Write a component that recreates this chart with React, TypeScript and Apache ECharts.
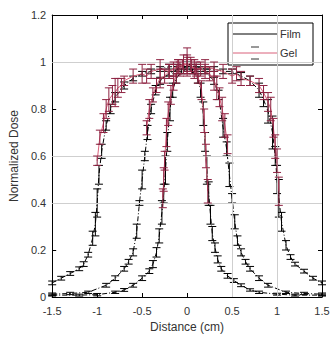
import React, { useEffect, useRef } from "react";
import * as echarts from "echarts";

const xTickLabels = ["-1.5", "-1", "-0.5", "0", "0.5", "1", "1.5"];
const yTickLabels = ["0", "0.2", "0.4", "0.6", "0.8", "1", "1.2"];

// Film, wide field
const filmWideX = [-1.5,-1.4,-1.3,-1.2,-1.15,-1.1,-1.05,-1.02,-1.0,-0.98,-0.95,-0.9,-0.85,-0.8,-0.7,-0.6,-0.5,-0.4,-0.3,-0.2,-0.1,0,0.1,0.2,0.3,0.4,0.5,0.6,0.7,0.8,0.85,0.9,0.95,0.98,1.0,1.02,1.05,1.1,1.15,1.2,1.3,1.4,1.5];
const filmWideY = [0.06,0.08,0.10,0.12,0.14,0.18,0.25,0.31,0.40,0.52,0.62,0.73,0.80,0.85,0.90,0.93,0.95,0.96,0.97,0.98,0.98,0.99,0.98,0.97,0.97,0.96,0.96,0.94,0.92,0.88,0.84,0.79,0.70,0.60,0.50,0.42,0.32,0.22,0.17,0.14,0.11,0.08,0.06];
const filmWideErr = [0.008,0.008,0.008,0.008,0.01,0.01,0.03,0.05,0.06,0.04,0.03,0.02,0.02,0.02,0.015,0.01,0.01,0.01,0.01,0.01,0.01,0.01,0.01,0.01,0.01,0.01,0.01,0.015,0.02,0.03,0.03,0.05,0.07,0.04,0.06,0.08,0.04,0.02,0.01,0.008,0.008,0.008,0.008];

// Film, middle field
const filmMidX = [-1.5,-1.3,-1.1,-0.9,-0.8,-0.7,-0.65,-0.6,-0.56,-0.53,-0.5,-0.47,-0.44,-0.4,-0.35,-0.3,-0.2,-0.1,0,0.1,0.2,0.3,0.35,0.4,0.44,0.47,0.5,0.53,0.56,0.6,0.65,0.7,0.8,0.9,1.1,1.3,1.5];
const filmMidY = [0.012,0.015,0.02,0.05,0.08,0.12,0.15,0.19,0.28,0.40,0.50,0.60,0.70,0.80,0.88,0.92,0.95,0.97,0.98,0.97,0.96,0.92,0.86,0.72,0.63,0.52,0.42,0.32,0.24,0.19,0.15,0.12,0.08,0.05,0.02,0.015,0.012];
const filmMidErr = [0.005,0.005,0.005,0.008,0.01,0.01,0.01,0.015,0.03,0.01,0.04,0.02,0.03,0.02,0.02,0.015,0.01,0.01,0.01,0.01,0.01,0.015,0.02,0.04,0.03,0.05,0.02,0.03,0.02,0.015,0.01,0.01,0.01,0.008,0.005,0.005,0.005];

// Film, narrow field
const filmNarrowX = [-1.5,-1.2,-1.0,-0.8,-0.7,-0.6,-0.5,-0.42,-0.38,-0.34,-0.31,-0.28,-0.26,-0.24,-0.22,-0.19,-0.16,-0.12,-0.06,0,0.06,0.12,0.15,0.18,0.2,0.22,0.24,0.26,0.28,0.31,0.34,0.38,0.45,0.52,0.6,0.7,0.8,1.0,1.2,1.5];
const filmNarrowY = [0.008,0.008,0.01,0.02,0.03,0.05,0.08,0.11,0.14,0.19,0.26,0.36,0.44,0.54,0.66,0.80,0.88,0.93,0.96,0.97,0.96,0.93,0.88,0.78,0.66,0.54,0.44,0.35,0.27,0.21,0.16,0.12,0.09,0.07,0.05,0.03,0.02,0.012,0.008,0.008];
const filmNarrowErr = [0.004,0.004,0.005,0.005,0.006,0.008,0.01,0.01,0.015,0.02,0.03,0.05,0.04,0.06,0.04,0.05,0.03,0.02,0.01,0.01,0.01,0.02,0.03,0.05,0.04,0.06,0.05,0.04,0.03,0.02,0.015,0.01,0.01,0.008,0.006,0.005,0.005,0.004,0.004,0.004];

// Gel, wide field
const gelWideX = [-1.0,-0.97,-0.93,-0.9,-0.87,-0.83,-0.8,-0.77,-0.73,-0.7,-0.6,-0.5,-0.45,-0.4,-0.3,-0.2,-0.1,0,0.1,0.2,0.3,0.4,0.5,0.55,0.6,0.7,0.8,0.85,0.9,0.93,0.96,0.98,1.0,1.02];
const gelWideY = [0.58,0.68,0.74,0.80,0.84,0.86,0.87,0.89,0.90,0.92,0.94,0.95,0.94,0.96,0.97,0.96,0.98,0.99,0.97,0.98,0.97,0.96,0.94,0.95,0.93,0.92,0.90,0.87,0.83,0.80,0.72,0.64,0.58,0.45];
const gelWideErr = [0.02,0.03,0.04,0.04,0.05,0.04,0.06,0.04,0.03,0.02,0.03,0.04,0.03,0.03,0.04,0.03,0.03,0.04,0.03,0.03,0.03,0.03,0.03,0.03,0.03,0.02,0.03,0.03,0.04,0.05,0.04,0.05,0.05,0.06];

// Gel, middle field
const gelMidX = [-0.45,-0.42,-0.38,-0.34,-0.3,-0.25,-0.2,-0.15,-0.1,-0.05,0,0.05,0.1,0.15,0.2,0.25,0.3,0.33,0.36,0.39,0.42,0.45];
const gelMidY = [0.72,0.80,0.86,0.90,0.93,0.94,0.96,0.97,0.98,0.99,0.99,0.98,0.97,0.97,0.96,0.95,0.92,0.89,0.85,0.80,0.73,0.65];
const gelMidErr = [0.03,0.04,0.03,0.03,0.04,0.03,0.03,0.03,0.03,0.02,0.03,0.03,0.02,0.03,0.03,0.03,0.04,0.05,0.04,0.05,0.05,0.04];

// Gel, narrow field
const gelNarrowX = [-0.27,-0.26,-0.25,-0.23,-0.21,-0.18,-0.15,-0.12,-0.08,-0.04,0,0.04,0.08,0.12,0.16,0.19,0.21,0.23];
const gelNarrowY = [0.42,0.50,0.58,0.70,0.78,0.86,0.91,0.95,0.97,0.99,1.0,0.99,0.97,0.94,0.88,0.75,0.60,0.45];
const gelNarrowErr = [0.04,0.05,0.04,0.06,0.05,0.04,0.03,0.04,0.03,0.04,0.06,0.03,0.04,0.03,0.04,0.05,0.05,0.05];

const gridYLines = [1, 0.6, 0.4];
const gridXLines = [0.5, 1];

const FILM = "#000000";
const GEL_LINE = "#d9607a";
const GEL_BAR = "#8e2342";
const FONT = "Liberation Sans, Arial, sans-serif";

function zip(xs: number[], ys: number[], es?: number[]) {
  return xs.map((x, i) => (es ? [x, ys[i], es[i]] : [x, ys[i]]));
}

function errSeries(xs: number[], ys: number[], es: number[], color: string, z: number) {
  return {
    type: "custom",
    xAxisIndex: 0,
    yAxisIndex: 0,
    z,
    silent: true,
    data: zip(xs, ys, es),
    encode: { x: 0, y: 1 },
    renderItem: (params: any, api: any) => {
      const x = api.value(0);
      const y = api.value(1);
      const e = api.value(2);
      const top = api.coord([x, y + e]);
      const bot = api.coord([x, y - e]);
      const hw = 4;
      const style = { stroke: color, lineWidth: 1, fill: "none" };
      return {
        type: "group",
        children: [
          { type: "line", shape: { x1: top[0], y1: top[1], x2: bot[0], y2: bot[1] }, style },
          { type: "line", shape: { x1: top[0] - hw, y1: top[1], x2: top[0] + hw, y2: top[1] }, style },
          { type: "line", shape: { x1: bot[0] - hw, y1: bot[1], x2: bot[0] + hw, y2: bot[1] }, style },
        ],
      };
    },
  };
}

function lineSeries(xs: number[], ys: number[], color: string, dashed: boolean, z: number) {
  return {
    type: "line",
    xAxisIndex: 0,
    yAxisIndex: 0,
    z,
    silent: true,
    symbol: "none",
    data: zip(xs, ys),
    lineStyle: { color, width: 1, type: dashed ? [5, 2, 1, 2] : "solid" },
  };
}

export default function App() {
  const ref = useRef<HTMLDivElement>(null);
  useEffect(() => {
    document.body.style.margin = "0";
    const chart = echarts.init(ref.current!, null, { renderer: "svg" });
    const fmt = (v: number) => String(Number(v.toFixed(1)));
    const labelStyle = { color: "#333", fontSize: 11, fontFamily: FONT };
    chart.setOption({
      animation: false,
      backgroundColor: "#ffffff",
      grid: { left: 51, right: 11, top: 15, bottom: 48 },
      xAxis: [
        {
          type: "value",
          min: -1.5,
          max: 1.5,
          interval: 0.5,
          position: "bottom",
          name: "Distance (cm)",
          nameLocation: "middle",
          nameGap: 24,
          nameTextStyle: { color: "#333", fontSize: 12, fontFamily: FONT },
          axisLine: { show: true, onZero: false, lineStyle: { color: "#000", width: 1 } },
          axisTick: { show: true, inside: true, length: 4, lineStyle: { color: "#000" } },
          axisLabel: { ...labelStyle, margin: 8, formatter: (v: number) => xTickLabels[Math.round((v + 1.5) / 0.5)] ?? fmt(v) },
          splitLine: { show: false },
        },
        {
          type: "value",
          min: -1.5,
          max: 1.5,
          interval: 0.5,
          position: "top",
          axisLine: { show: true, onZero: false, lineStyle: { color: "#000", width: 1 } },
          axisTick: { show: true, inside: true, length: 4, lineStyle: { color: "#000" } },
          axisLabel: { show: false },
          splitLine: { show: false },
        },
      ],
      yAxis: [
        {
          type: "value",
          min: 0,
          max: 1.2,
          interval: 0.2,
          position: "left",
          name: "Normalized Dose",
          nameLocation: "middle",
          nameGap: 28,
          nameTextStyle: { color: "#333", fontSize: 12, fontFamily: FONT },
          axisLine: { show: true, onZero: false, lineStyle: { color: "#000", width: 1 } },
          axisTick: { show: true, inside: true, length: 4, lineStyle: { color: "#000" } },
          axisLabel: { ...labelStyle, margin: 6, formatter: (v: number) => yTickLabels[Math.round(v / 0.2)] ?? fmt(v) },
          splitLine: { show: false },
        },
        {
          type: "value",
          min: 0,
          max: 1.2,
          interval: 0.2,
          position: "right",
          axisLine: { show: true, onZero: false, lineStyle: { color: "#000", width: 1 } },
          axisTick: { show: true, inside: true, length: 4, lineStyle: { color: "#000" } },
          axisLabel: { show: false },
          splitLine: { show: false },
        },
      ],
      series: [
        {
          type: "line",
          xAxisIndex: 0,
          yAxisIndex: 0,
          z: 0,
          data: [],
          symbol: "none",
          silent: true,
          markLine: {
            silent: true,
            symbol: "none",
            label: { show: false },
            lineStyle: { color: "#cfcfcf", width: 1, type: "solid" },
            data: [
              ...gridYLines.map((v) => ({ yAxis: v })),
              ...gridXLines.map((v) => ({ xAxis: v })),
            ],
          },
        },
        lineSeries(filmWideX, filmWideY, FILM, true, 2),
        lineSeries(filmMidX, filmMidY, FILM, true, 2),
        lineSeries(filmNarrowX, filmNarrowY, FILM, true, 2),
        errSeries(filmWideX, filmWideY, filmWideErr, FILM, 3),
        errSeries(filmMidX, filmMidY, filmMidErr, FILM, 3),
        errSeries(filmNarrowX, filmNarrowY, filmNarrowErr, FILM, 3),
        lineSeries(gelWideX, gelWideY, GEL_LINE, false, 4),
        lineSeries(gelMidX, gelMidY, GEL_LINE, false, 4),
        lineSeries(gelNarrowX, gelNarrowY, GEL_LINE, false, 4),
        errSeries(gelWideX, gelWideY, gelWideErr, GEL_BAR, 5),
        errSeries(gelMidX, gelMidY, gelMidErr, GEL_BAR, 5),
        errSeries(gelNarrowX, gelNarrowY, gelNarrowErr, GEL_BAR, 5),
      ],
      graphic: [
        {
          type: "group",
          z: 100,
          children: [
            { type: "rect", shape: { x: 228, y: 23, width: 85, height: 42 }, style: { fill: "#fff", stroke: "#000", lineWidth: 1 } },
            { type: "line", shape: { x1: 232, y1: 34, x2: 277, y2: 34 }, style: { stroke: FILM, lineWidth: 1 } },
            { type: "text", x: 280, y: 34, style: { text: "Film", fill: "#333", fontSize: 11, fontFamily: FONT, verticalAlign: "middle", align: "left" } },
            { type: "line", shape: { x1: 232, y1: 53, x2: 277, y2: 53 }, style: { stroke: GEL_LINE, lineWidth: 1 } },
            { type: "line", shape: { x1: 251, y1: 47, x2: 259, y2: 47 }, style: { stroke: "#333", lineWidth: 1 } },
            { type: "line", shape: { x1: 251, y1: 59, x2: 259, y2: 59 }, style: { stroke: "#333", lineWidth: 1 } },
            { type: "text", x: 280, y: 53, style: { text: "Gel", fill: "#333", fontSize: 11, fontFamily: FONT, verticalAlign: "middle", align: "left" } },
          ],
        },
      ],
    });
    return () => chart.dispose();
  }, []);
  return <div ref={ref} style={{ width: 333, height: 345 }} />;
}
